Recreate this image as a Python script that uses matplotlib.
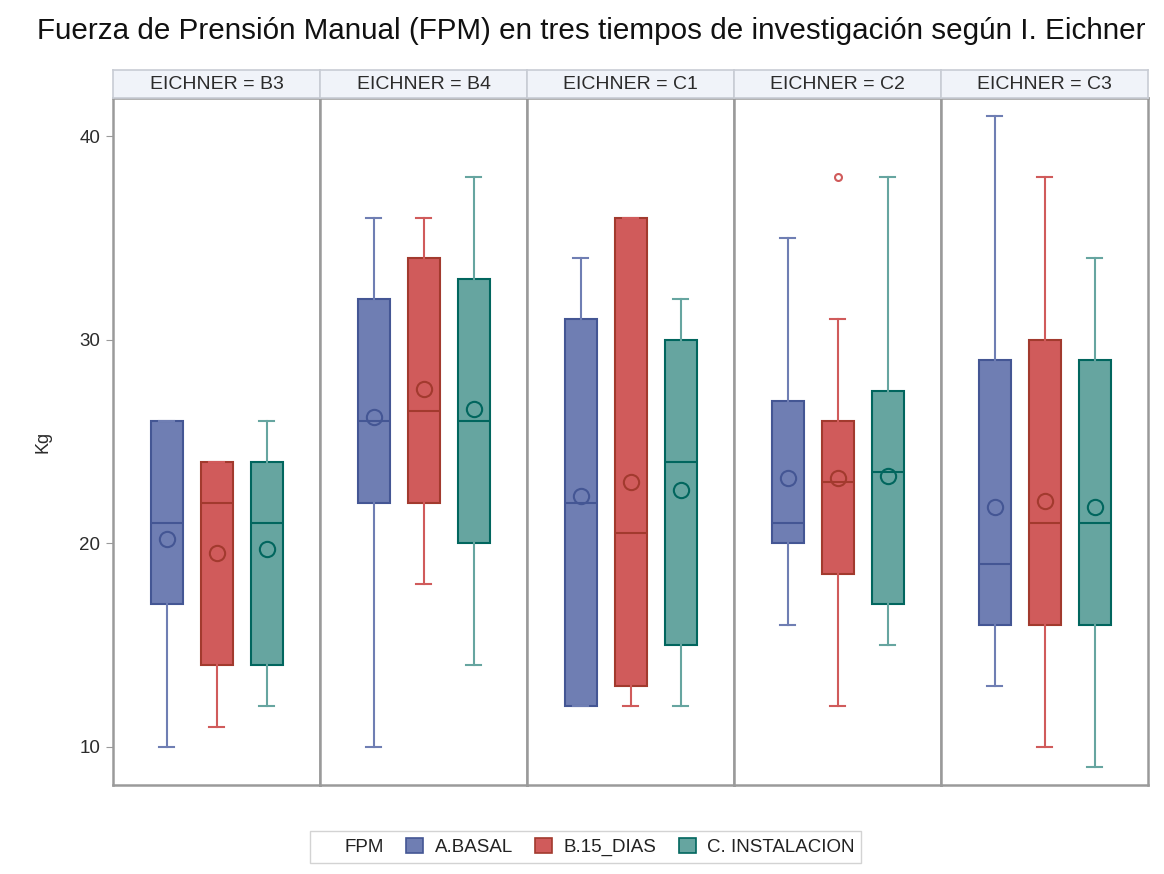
import matplotlib.pyplot as plt
from matplotlib.patches import Patch
from matplotlib.lines import Line2D

plt.rcParams['font.family'] = ['Liberation Sans', 'DejaVu Sans']

panels = ['B3', 'B4', 'C1', 'C2', 'C3']
groups = ['A.BASAL', 'B.15_DIAS', 'C. INSTALACION']

# per panel: one entry per group -> (whislo, q1, med, q3, whishi, mean)
stats = {
    'B3': [(10, 17, 21, 26, 26, 20.2), (11, 14, 22, 24, 24, 19.5), (12, 14, 21, 24, 26, 19.7)],
    'B4': [(10, 22, 26, 32, 36, 26.2), (18, 22, 26.5, 34, 36, 27.6), (14, 20, 26, 33, 38, 26.6)],
    'C1': [(12, 12, 22, 31, 34, 22.3), (12, 13, 20.5, 36, 36, 23.0), (12, 15, 24, 30, 32, 22.6)],
    'C2': [(16, 20, 21, 27, 35, 23.2), (12, 18.5, 23, 26, 31, 23.2), (15, 17, 23.5, 27.5, 38, 23.3)],
    'C3': [(13, 16, 19, 29, 41, 21.8), (10, 16, 21, 30, 38, 22.1), (9, 16, 21, 29, 34, 21.8)],
}
outliers = {'C2': [[], [38], []]}

fills = ['#6F7EB3', '#D05B5B', '#66A5A0']
edges = ['#445694', '#A23A2E', '#01665E']

fig = plt.figure(figsize=(11.64, 8.74), dpi=100)
left, right, bottom, top = 113 / 1164, 1148 / 1164, 1 - 785 / 874, 1 - 98 / 874
strip_h = 28 / 874
pw = (right - left) / len(panels)

frame_col = '#9A9A9A'
for i, p in enumerate(panels):
    ax = fig.add_axes([left + i * pw, bottom, pw, top - bottom])
    for j in range(3):
        wl, q1, med, q3, wh, mean = stats[p][j]
        fl = outliers.get(p, [[], [], []])[j]
        d = dict(whislo=wl, q1=q1, med=med, q3=q3, whishi=wh, mean=mean, fliers=fl)
        ax.bxp([d], positions=[j], widths=0.64, patch_artist=True, showmeans=True,
               boxprops=dict(facecolor=fills[j], edgecolor=edges[j], linewidth=1.5),
               medianprops=dict(color=edges[j], linewidth=1.5),
               whiskerprops=dict(color=fills[j], linewidth=1.5),
               capprops=dict(color=fills[j], linewidth=1.5),
               capwidths=0.3,
               meanprops=dict(marker='o', markerfacecolor='none', markeredgecolor=edges[j],
                              markersize=11, markeredgewidth=1.5),
               flierprops=dict(marker='o', markerfacecolor='none', markeredgecolor=fills[j],
                               markersize=5, markeredgewidth=1.5))
    ax.set_xlim(-1.07, 3.07)
    ax.set_ylim(8.13, 41.87)
    ax.set_xticks([])
    ax.set_yticks([10, 20, 30, 40])
    for s in ax.spines.values():
        s.set_color(frame_col)
        s.set_linewidth(1.8)
    if i == 0:
        ax.tick_params(axis='y', length=5, color=frame_col, labelsize=13.5, labelcolor='#2b2b2b', pad=4)
        ax.set_ylabel('Kg', fontsize=13, color='#2b2b2b', labelpad=20)
    else:
        ax.tick_params(axis='y', left=False, labelleft=False)

    sax = fig.add_axes([left + i * pw, top, pw, strip_h])
    sax.set_facecolor('#F0F3F9')
    sax.set_xticks([])
    sax.set_yticks([])
    for s in sax.spines.values():
        s.set_color('#C8CCD4')
        s.set_linewidth(1.2)
    sax.text(0.5, 0.47, 'EICHNER = ' + p, ha='center', va='center', fontsize=14,
             color='#2b2b2b', transform=sax.transAxes)

fig.text(0.508, 0.965, 'Fuerza de Prensión Manual (FPM) en tres tiempos de investigación según I. Eichner',
         ha='center', va='center', fontsize=21.3, color='#111111')

handles = [Line2D([], [], linestyle='none')] + [
    Patch(facecolor=fills[k], edgecolor=edges[k], linewidth=1.2) for k in range(3)]
labels = ['FPM'] + groups
leg = fig.legend(handles, labels, loc='center', bbox_to_anchor=(0.503, 0.031), ncol=4,
                 frameon=True, fontsize=13.5, handlelength=0.9, handleheight=0.9,
                 handletextpad=0.6, columnspacing=1.2, borderpad=0.35, fancybox=False)
leg.get_frame().set_edgecolor('#C8C8C8')
leg.get_frame().set_linewidth(1.0)
for t in leg.get_texts():
    t.set_color('#222222')

fig.savefig('out.png', dpi=100)
